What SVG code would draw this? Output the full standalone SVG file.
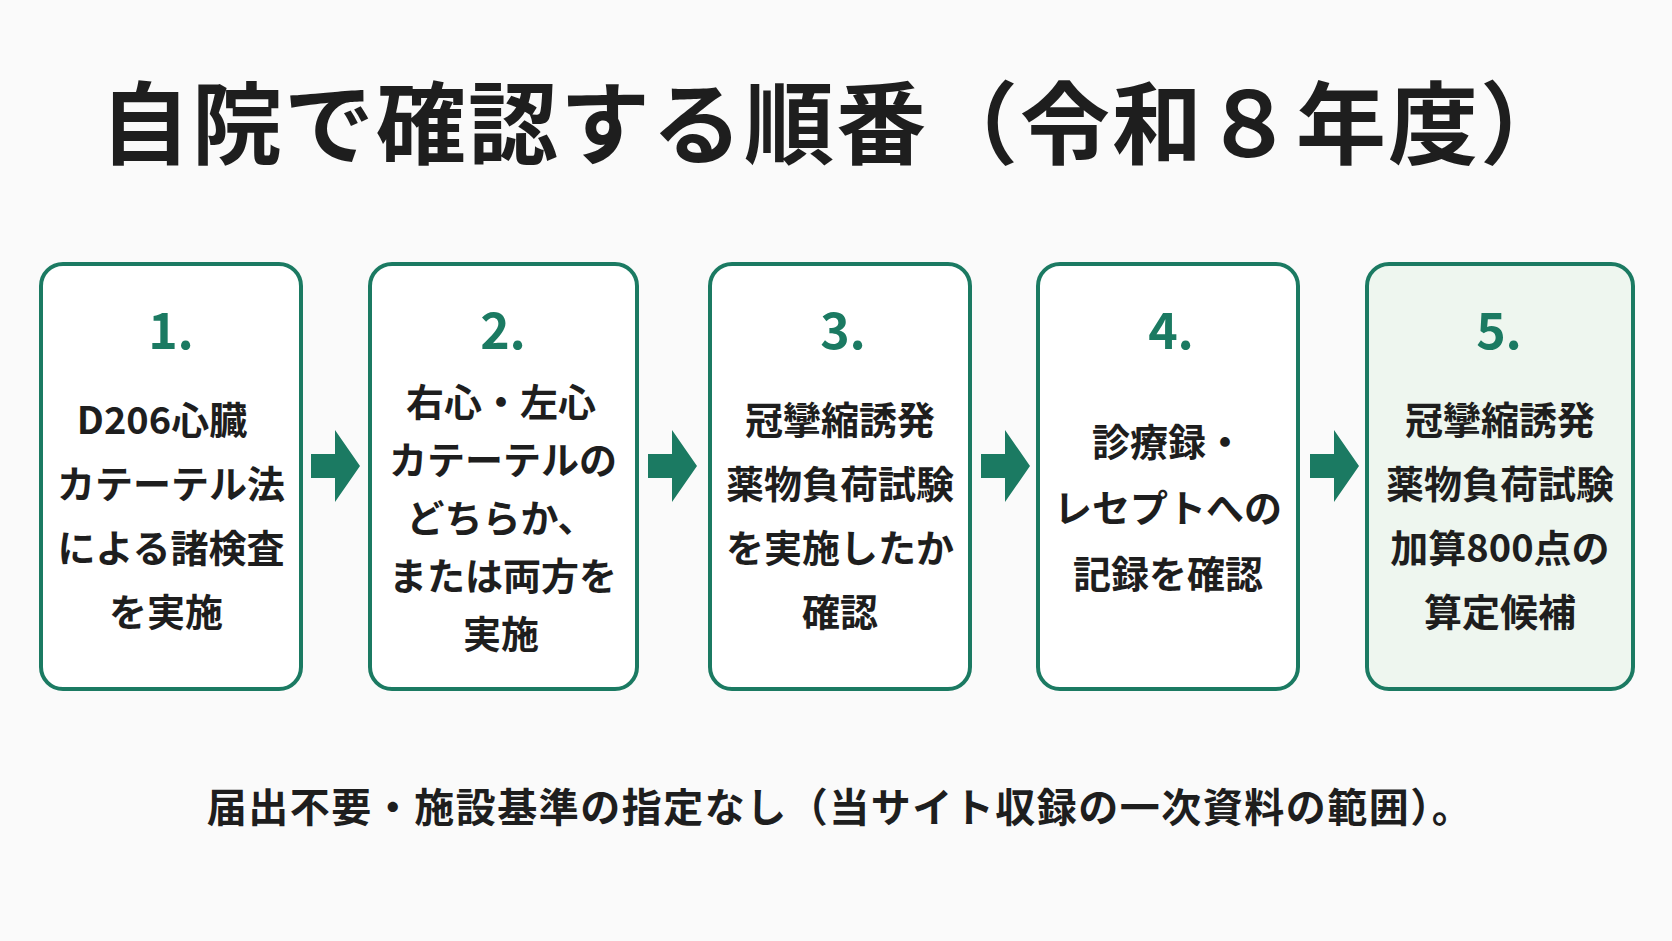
<svg xmlns="http://www.w3.org/2000/svg" width="1672" height="941" viewBox="0 0 1672 941">
<style>
text{font-family:"Noto Sans CJK JP","Noto Sans",sans-serif;text-anchor:middle;fill:#1e1e1e;font-weight:700}
.box{fill:#fff;stroke:#1b7a62;stroke-width:4}
.num{fill:#1b7a62;font-size:50px}
.b{font-size:38px}
.arr{fill:#1b7a62}
</style>
<rect width="1672" height="941" fill="#fafafa"/>
<text x="836" y="157" font-size="90" font-weight="900" letter-spacing="2">自院で確認する順番（令和８年度）</text>
<g id="n1"><rect class="box" x="41" y="264" width="260" height="425" rx="22"/><text class="num" x="171" y="349">1.</text>
<text class="b" x="162" y="434">D206心臓</text><text class="b" x="171" y="498">カテーテル法</text><text class="b" x="171" y="562">による諸検査</text><text class="b" x="166" y="626">を実施</text></g>
<g id="n2"><rect class="box" x="370" y="264" width="267" height="425" rx="22"/><text class="num" x="503" y="349">2.</text>
<text class="b" x="501" y="416">右心・左心</text><text class="b" x="503" y="474">カテーテルの</text><text class="b" x="501" y="532">どちらか、</text><text class="b" x="503" y="590">または両方を</text><text class="b" x="501" y="648">実施</text></g>
<g id="n3"><rect class="box" x="710" y="264" width="260" height="425" rx="22"/><text class="num" x="843" y="349">3.</text>
<text class="b" x="840" y="434">冠攣縮誘発</text><text class="b" x="840" y="498">薬物負荷試験</text><text class="b" x="840" y="562">を実施したか</text><text class="b" x="840" y="626">確認</text></g>
<g id="n4"><rect class="box" x="1038" y="264" width="260" height="425" rx="22"/><text class="num" x="1171" y="349">4.</text>
<text class="b" x="1168" y="456">診療録・</text><text class="b" x="1168" y="522">レセプトへの</text><text class="b" x="1168" y="588">記録を確認</text></g>
<g id="n5"><rect class="box" x="1367" y="264" width="266" height="425" rx="22" style="fill:#eef6ef"/><text class="num" x="1499" y="349">5.</text>
<text class="b" x="1500" y="434">冠攣縮誘発</text><text class="b" x="1500" y="498">薬物負荷試験</text><text class="b" x="1500" y="562">加算800点の</text><text class="b" x="1500" y="626">算定候補</text></g>
<g id="connectors">
<path class="arr" d="M311 454h24v-24l25 36l-25 36v-24h-24z"/>
<path class="arr" d="M648 454h24v-24l25 36l-25 36v-24h-24z"/>
<path class="arr" d="M981 454h24v-24l25 36l-25 36v-24h-24z"/>
<path class="arr" d="M1310 454h24v-24l25 36l-25 36v-24h-24z"/>
</g>
<text x="840" y="822" font-size="40" font-weight="500" letter-spacing="1.5">届出不要・施設基準の指定なし（当サイト収録の一次資料の範囲）。</text>
</svg>
